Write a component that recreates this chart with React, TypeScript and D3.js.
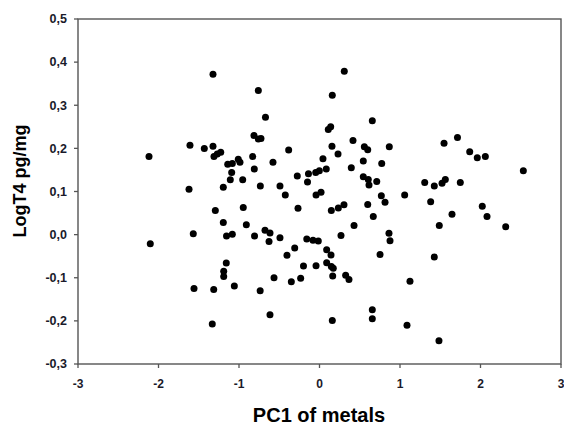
import React from "react";
import * as d3 from "d3";

const pc1Values: number[] = [
  -2.118, -1.609, -1.431, -1.323, -1.311, -1.27, -1.227, -1.14, -1.083, -1.009,
  -0.988, -1.091, -1.108, -1.195, -0.954, -0.83, -0.81, -0.814, -0.76, -0.727,
  -0.671, -0.578, -0.383, -0.735, -0.491, -0.425, -0.276, -0.267, -0.137, -0.149,
  -1.621, -1.294, -0.947, -1.195, -0.909, -1.568, -1.155, -1.083, -0.807, -0.677,
  -0.615, -0.627, -0.491, -0.308, -0.158, -2.102, -0.404, -1.158, -1.19, -1.19,
  -0.199, -1.559, -1.314, -1.058, -0.737, -0.565, -0.35, -0.234, -0.615, -1.332,
  -1.323, -0.76, 0.308, 0.159, 0.656, 0.109, 0.139, 0.416, 0.557, 0.599,
  0.867, 1.547, 1.714, 1.866, 1.96, 2.06, 2.532, 0.155, 0.23, 0.043,
  0.084, -0.002, -0.047, 0.395, 0.544, 0.773, 0.544, 0.606, 0.615, 0.711,
  -0.043, 0.019, 0.147, 0.234, 0.304, 0.599, 0.668, 0.768, 0.814, 1.058,
  1.307, 1.426, 1.522, 1.563, 1.749, 1.381, 1.646, 1.488, 2.022, 2.081,
  2.313, 0.429, 0.267, 0.863, 0.876, -0.081, -0.015, 0.089, 0.143, 0.752,
  1.426, 0.089, 0.171, 0.147, 0.164, -0.043, 0.325, 0.366, 1.124, 0.159,
  0.656, 0.656, 1.087, 1.484,
];

const logT4Values: number[] = [
  0.181, 0.207, 0.2, 0.205, 0.181, 0.187, 0.191, 0.163, 0.165, 0.175,
  0.168, 0.144, 0.127, 0.11, 0.127, 0.181, 0.152, 0.23, 0.222, 0.223,
  0.272, 0.168, 0.196, 0.113, 0.113, 0.092, 0.136, 0.061, 0.141, 0.122,
  0.105, 0.056, 0.063, 0.028, 0.023, 0.002, -0.003, 0.001, -0.003, 0.01,
  0.004, -0.016, -0.007, -0.031, -0.01, -0.021, -0.048, -0.066, -0.085, -0.097,
  -0.073, -0.125, -0.127, -0.119, -0.13, -0.1, -0.109, -0.101, -0.186, -0.207,
  0.372, 0.334, 0.379, 0.323, 0.264, 0.244, 0.25, 0.218, 0.204, 0.197,
  0.204, 0.212, 0.225, 0.192, 0.178, 0.181, 0.148, 0.205, 0.187, 0.176,
  0.152, 0.148, 0.144, 0.155, 0.171, 0.165, 0.134, 0.128, 0.115, 0.123,
  0.092, 0.098, 0.056, 0.062, 0.069, 0.07, 0.042, 0.09, 0.075, 0.092,
  0.121, 0.113, 0.119, 0.128, 0.121, 0.076, 0.047, 0.021, 0.066, 0.042,
  0.018, 0.021, -0.002, 0.003, -0.014, -0.013, -0.015, -0.035, -0.047, -0.046,
  -0.052, -0.065, -0.078, -0.074, -0.096, -0.072, -0.094, -0.104, -0.108, -0.199,
  -0.174, -0.195, -0.21, -0.246,
];

const xTicks: number[] = [-3, -2, -1, 0, 1, 2, 3];
const yTicks: number[] = [-0.3, -0.2, -0.1, 0.0, 0.1, 0.2, 0.3, 0.4, 0.5];

const xTitle = "PC1 of metals";
const yTitle = "LogT4 pg/mg";

export default function App() {
  const W = 564;
  const H = 428;
  const left = 78;
  const right = 561;
  const top = 19;
  const bottom = 364;

  const x = d3.scaleLinear().domain([-3, 3]).range([left, right]);
  const y = d3.scaleLinear().domain([-0.3, 0.5]).range([bottom, top]);

  const fmtY = (v: number) => d3.format(".1f")(v).replace("−", "-").replace(".", ",");
  const fmtX = (v: number) => String(v);

  const axisColor = "#555555";
  const textColor = "#1a1a2a";
  const font = "'Liberation Sans', Arial, sans-serif";

  const points = pc1Values.map((v, i) => [v, logT4Values[i]] as [number, number]);

  return (
    <svg
      width={W}
      height={H}
      style={{ position: "absolute", left: 0, top: 0, background: "#fff" }}
      fontFamily={font}
    >
      <rect x={0} y={0} width={W} height={H} fill="#fff" />
      <rect
        x={left}
        y={top}
        width={right - left}
        height={bottom - top}
        fill="none"
        stroke={axisColor}
        strokeWidth={1.4}
      />
      {yTicks.map((t) => (
        <g key={"y" + t}>
          <line x1={left - 4} x2={left} y1={y(t)} y2={y(t)} stroke={axisColor} strokeWidth={1.3} />
          <text
            x={left - 11}
            y={y(t) + 4.3}
            textAnchor="end"
            fontSize={12.5}
            fontWeight="bold"
            fill={textColor}
          >
            {fmtY(t)}
          </text>
        </g>
      ))}
      {xTicks.map((t) => (
        <g key={"x" + t}>
          <line x1={x(t)} x2={x(t)} y1={bottom} y2={bottom + 4} stroke={axisColor} strokeWidth={1.3} />
          <text
            x={x(t)}
            y={bottom + 24}
            textAnchor="middle"
            fontSize={12}
            fontWeight="bold"
            fill={textColor}
          >
            {fmtX(t)}
          </text>
        </g>
      ))}
      {points.map(([px, py], i) => (
        <circle key={i} cx={x(px)} cy={y(py)} r={3.5} fill="#000" />
      ))}
      <text
        x={(left + right) / 2 - 0.5}
        y={422}
        textAnchor="middle"
        fontSize={20}
        fontWeight="bold"
        fill="#000"
      >
        {xTitle}
      </text>
      <text
        transform={`translate(26, ${181}) rotate(-90)`}
        textAnchor="middle"
        fontSize={18}
        fontWeight="bold"
        fill="#000"
      >
        {yTitle}
      </text>
    </svg>
  );
}
